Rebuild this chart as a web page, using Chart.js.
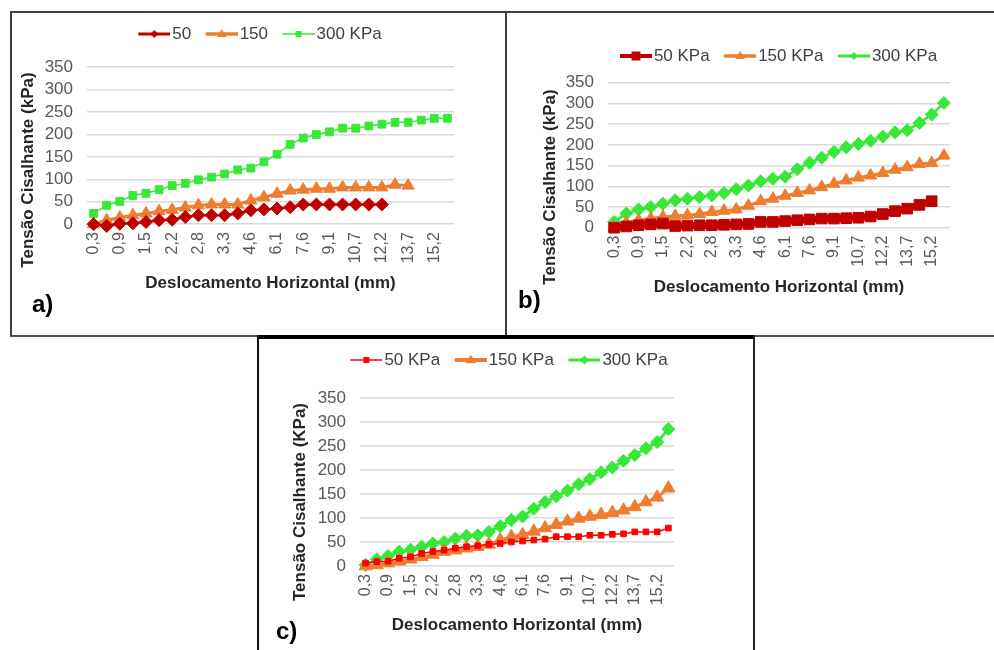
<!DOCTYPE html>
<html><head><meta charset="utf-8">
<script src="https://cdn.jsdelivr.net/npm/chart.js@4.4.1/dist/chart.umd.min.js"></script>
<style>
body{margin:0;background:#fff;width:994px;height:650px;overflow:hidden;position:relative;font-family:"Liberation Sans",Arial,sans-serif;}
.ln{position:absolute;}
canvas{position:absolute;}
.ytitle{position:absolute;transform:translate(-50%,-50%) rotate(-90deg);white-space:nowrap;font-weight:bold;font-size:17px;color:#262626;}
.tag{position:absolute;font-weight:bold;font-size:24px;color:#000;line-height:1;}
</style></head><body>
<div class="ln" style="left:10px;top:11px;width:984px;height:2px;background:#404040"></div>
<div class="ln" style="left:10px;top:11px;width:2px;height:326px;background:#404040"></div>
<div class="ln" style="left:10px;top:335px;width:248px;height:2px;background:#555"></div>
<div class="ln" style="left:505px;top:11px;width:2px;height:325px;background:#404040"></div>
<div class="ln" style="left:755px;top:335px;width:239px;height:2px;background:#555"></div>
<div class="ln" style="left:257px;top:335px;width:498px;height:4px;background:#000"></div>
<div class="ln" style="left:257px;top:335px;width:2px;height:315px;background:#111"></div>
<div class="ln" style="left:753px;top:335px;width:2px;height:315px;background:#222"></div>

<canvas id="ca" width="492" height="322" style="left:12px;top:13px"></canvas>
<canvas id="cb" width="492" height="322" style="left:507px;top:13px"></canvas>
<canvas id="cc" width="494" height="310" style="left:259px;top:340px"></canvas>

<div class="ytitle" style="left:28px;top:170px">Tensão Cisalhante (kPa)</div>
<div class="ytitle" style="left:550px;top:187px">Tensão Cisalhante (kPa)</div>
<div class="ytitle" style="left:300px;top:502px">Tensão Cisalhante (KPa)</div>
<div class="tag" style="left:32px;top:292px">a)</div>
<div class="tag" style="left:518px;top:288px">b)</div>
<div class="tag" style="left:276px;top:619px">c)</div>

<script>
const categories = ['0,3','0,6','0,9','1,2','1,5','1,9','2,2','2,5','2,8','3,0','3,3','3,9','4,6','5,3','6,1','6,8','7,6','8,4','9,1','9,9','10,7','11,4','12,2','13,0','13,7','14,5','15,2','16,0'];

const a50  = [0,-4,1,2,5,9,10,16,20,20,20,24,31,33,35,38,44,44,44,44,44,44,44];
const a150 = [0,9,15,20,24,29,32,37,42,44,44,44,53,60,68,75,77,79,79,82,82,82,82,88,86];
const a300 = [24,42,51,64,69,77,86,91,99,105,112,121,125,139,156,178,192,200,206,214,214,219,223,227,227,232,236,236];

const b50  = [0,3,6,8,10,4,5,6,6,7,8,9,14,14,16,18,20,22,22,23,24,27,33,40,46,55,64];
const b150 = [0,12,18,22,26,28,30,33,38,41,44,53,64,70,77,84,90,98,106,114,121,126,132,140,146,154,156,174];
const b300 = [14,34,44,50,58,66,70,74,78,84,93,102,112,118,123,141,157,169,183,194,202,210,220,230,235,253,273,301];

const c50  = [6,9,10,16,19,26,30,33,37,40,42,45,47,50,52,54,56,61,61,61,64,64,66,67,71,71,71,79];
const c150 = [0,2,6,10,14,19,24,30,33,37,40,45,54,61,65,72,79,86,93,99,103,107,111,116,123,133,143,162];
const c300 = [2,14,21,30,34,40,47,50,57,63,64,71,83,96,103,119,133,145,157,170,181,195,205,219,231,245,258,285];

const yMin = 0, yMax = 350, yStep = 50;
const FAM = '"Liberation Sans", Arial, sans-serif';
const RED = '#c00000', RED2 = '#ff0000', ORANGE = '#ed7d31', GREEN = '#38e838';

function legendIcon(color, lw, style, r) {
  const c = document.createElement('canvas');
  c.width = 49; c.height = 18;
  const g = c.getContext('2d');
  g.strokeStyle = color; g.lineWidth = lw;
  g.beginPath(); g.moveTo(17, 9); g.lineTo(49, 9); g.stroke();
  g.fillStyle = color;
  const cx = 33, cy = 9;
  g.beginPath();
  if (style === 'rect') g.rect(cx - r, cy - r, 2 * r, 2 * r);
  else if (style === 'rectRot') { g.moveTo(cx, cy - r); g.lineTo(cx + r, cy); g.lineTo(cx, cy + r); g.lineTo(cx - r, cy); g.closePath(); }
  else { g.moveTo(cx, cy - r); g.lineTo(cx + r * 0.95, cy + r * 0.6); g.lineTo(cx - r * 0.95, cy + r * 0.6); g.closePath(); }
  g.fill();
  return c;
}

function build(id, o) {
  const icons = o.series.map(s => legendIcon(s.color, s.llw, s.ps, s.lr));
  return new Chart(document.getElementById(id), {
    type: 'line',
    data: {
      labels: categories,
      datasets: o.series.map(s => ({
        label: s.label, data: s.data,
        borderColor: s.color, backgroundColor: s.color, borderWidth: s.lw,
        pointStyle: s.ps, pointRadius: s.r, pointHoverRadius: s.r,
        pointBackgroundColor: s.color, pointBorderColor: s.color, pointBorderWidth: 1,
        tension: 0, fill: false, clip: false, yAxisID: 'y'
      }))
    },
    options: {
      responsive: false, animation: false, devicePixelRatio: 1,
      layout: { padding: o.padding },
      plugins: {
        legend: {
          display: true, position: 'top',
          labels: {
            usePointStyle: true, pointStyleWidth: 36, padding: 4, color: '#404040',
            font: { size: 17, family: FAM },
            generateLabels: (chart) => {
              const items = Chart.defaults.plugins.legend.labels.generateLabels(chart);
              items.forEach((it, i) => { it.pointStyle = icons[i]; });
              return items;
            }
          }
        },
        title: { display: true, text: '', weight: 500, font: { size: 1, lineHeight: 1 }, padding: { top: 0, bottom: o.spacer - 1 } },
        tooltip: { enabled: false }
      },
      scales: {
        x: {
          type: 'category', offset: true,
          grid: { display: false, drawTicks: false }, border: { display: false },
          ticks: {
            autoSkip: false, maxRotation: 90, minRotation: 90, padding: 8,
            color: '#595959', font: { size: 16, family: FAM },
            callback: (v, i) => (i % 2 === 0 ? categories[i] : '')
          },
          title: { display: true, text: 'Deslocamento Horizontal (mm)', color: '#262626', font: { size: 17, weight: 'bold', family: FAM }, padding: 0 },
          afterFit: (s) => { s.height = o.xH; }
        },
        y: {
          position: 'left', min: yMin, max: yMax,
          grid: { color: '#d9d9d9', lineWidth: 1.5, drawTicks: false }, border: { display: false },
          ticks: { stepSize: yStep, autoSkip: false, padding: 14, color: '#595959', font: { size: 17, family: FAM } },
          afterFit: (s) => { s.width = o.yW; }
        },
        yr: {
          type: 'linear', position: 'right', display: true,
          grid: { display: false, drawTicks: false }, border: { display: false },
          ticks: { display: false },
          afterFit: (s) => { s.width = o.rW; }
        }
      }
    }
  });
}

build('ca', {
  padding: { top: 8.5, left: 0, right: 6.5, bottom: 41.8 }, spacer: 14.7, xH: 69, yW: 75, rW: 43.5,
  series: [
    { label: '50', data: a50, color: RED, lw: 2.5, ps: 'rectRot', r: 6.5, llw: 3, lr: 4 },
    { label: '150', data: a150, color: ORANGE, lw: 3, ps: 'triangle', r: 7, llw: 3.5, lr: 5 },
    { label: '300 KPa', data: a300, color: GREEN, lw: 1.5, ps: 'rect', r: 5.5, llw: 1.5, lr: 3 }
  ]
});
build('cb', {
  padding: { top: 30.5, left: 41, right: 0.5, bottom: 37.8 }, spacer: 8.2, xH: 69.5, yW: 60, rW: 48.5,
  series: [
    { label: '50 KPa', data: b50, color: RED, lw: 7, ps: 'rect', r: 7.5, llw: 4, lr: 4.5 },
    { label: '150 KPa', data: b150, color: ORANGE, lw: 3, ps: 'triangle', r: 7, llw: 3.5, lr: 5 },
    { label: '300 KPa', data: b300, color: GREEN, lw: 2.5, ps: 'rectRot', r: 6.5, llw: 3, lr: 4 }
  ]
});
build('cc', {
  padding: { top: 7.5, left: 41, right: 45.5, bottom: 14.8 }, spacer: 19.4, xH: 69.2, yW: 60, rW: 33.5,
  series: [
    { label: '50 KPa', data: c50, color: RED2, lw: 1.5, ps: 'rect', r: 4, llw: 1.5, lr: 3 },
    { label: '150 KPa', data: c150, color: ORANGE, lw: 3, ps: 'triangle', r: 7.5, llw: 4, lr: 5.5 },
    { label: '300 KPa', data: c300, color: GREEN, lw: 3, ps: 'rectRot', r: 6.5, llw: 3, lr: 4.5 }
  ]
});
</script>
</body></html>
